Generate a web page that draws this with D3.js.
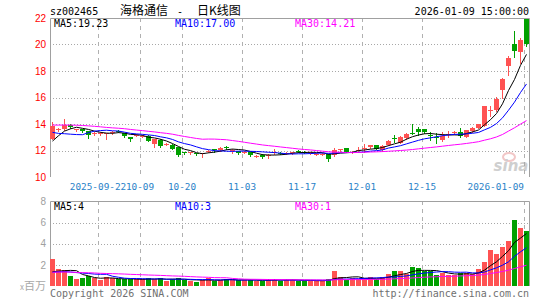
<!DOCTYPE html>
<html>
<head>
<meta charset="utf-8">
<script src="https://cdn.jsdelivr.net/npm/d3@7"></script>
<style>
  body { margin: 0; background: #fff; }
  svg { display: block; }
  text { font-family: "DejaVu Sans Mono", monospace; font-size: 10px; }
</style>
</head>
<body>
<script>
// daily K line, 2025-09-10 .. 2026-01-09 (80 trading days)
const opens = [12.90, 13.58, 13.60, 13.95, 13.56, 13.60, 13.45, 13.26, 13.27, 13.26,
  13.34, 13.50, 13.30, 13.00, 13.14, 13.08, 13.10, 12.50, 12.80, 12.47,
  12.45, 12.30, 11.85, 11.80, 11.78, 11.70, 11.90, 12.12, 12.04, 12.28,
  12.00, 11.96, 11.82, 11.90, 11.55, 11.66, 11.62, 11.80, 11.80, 11.75,
  11.80, 11.98, 11.92, 11.82, 11.70, 11.72, 11.72, 11.66, 12.05, 12.20,
  11.88, 12.00, 12.18, 12.26, 12.42, 12.04, 12.42, 12.94, 12.60, 12.92,
  13.32, 13.62, 13.60, 13.20, 13.02, 12.80, 13.22, 13.33, 13.42, 13.04,
  13.47, 13.72, 13.85, 14.98, 15.06, 16.57, 18.38, 20.04, 19.41, 21.92];
const highs = [14.13, 13.72, 14.35, 14.00, 13.66, 13.65, 13.50, 13.40, 13.38, 13.35,
  13.45, 13.55, 13.35, 13.02, 13.25, 13.20, 13.15, 12.90, 12.85, 12.60,
  12.48, 12.30, 11.90, 11.90, 11.80, 11.82, 12.05, 12.12, 12.25, 12.35,
  12.10, 12.00, 11.95, 11.92, 11.65, 11.70, 11.72, 12.08, 11.85, 11.85,
  11.92, 12.05, 11.98, 11.92, 11.80, 11.82, 11.75, 12.22, 12.15, 12.22,
  11.98, 12.30, 12.47, 12.45, 12.45, 12.38, 12.78, 13.17, 13.08, 13.30,
  13.98, 13.80, 13.65, 13.42, 13.30, 13.42, 13.45, 13.45, 13.67, 13.58,
  13.76, 14.02, 15.38, 15.38, 16.06, 17.45, 19.15, 21.00, 20.47, 21.95];
const lows = [12.85, 13.45, 13.55, 13.70, 13.50, 13.40, 12.95, 13.15, 13.20, 12.87,
  13.25, 13.40, 13.05, 12.75, 13.08, 13.00, 12.70, 12.30, 12.30, 12.40,
  12.10, 11.60, 11.75, 11.75, 11.68, 11.50, 11.85, 11.90, 12.00, 12.15,
  11.80, 11.75, 11.78, 11.62, 11.50, 11.45, 11.40, 11.75, 11.70, 11.70,
  11.75, 11.88, 11.82, 11.75, 11.65, 11.66, 11.22, 11.60, 12.00, 11.88,
  11.82, 11.95, 11.92, 12.22, 12.08, 12.00, 12.40, 12.67, 12.55, 12.88,
  13.22, 13.20, 13.30, 12.80, 12.60, 12.72, 13.00, 13.28, 13.00, 13.00,
  13.42, 13.70, 13.82, 14.60, 15.00, 15.94, 17.70, 19.08, 18.63, 19.90];
const closes = [13.85, 13.62, 13.95, 13.75, 13.60, 13.45, 13.20, 13.30, 13.31, 13.30,
  13.38, 13.46, 13.10, 12.85, 13.18, 13.12, 12.75, 12.85, 12.35, 12.52,
  12.15, 11.65, 11.80, 11.85, 11.72, 11.78, 11.97, 12.08, 12.20, 12.24,
  12.05, 11.80, 11.87, 11.66, 11.60, 11.50, 11.67, 11.85, 11.76, 11.80,
  11.86, 11.94, 11.88, 11.85, 11.75, 11.76, 11.36, 12.04, 12.10, 11.90,
  11.92, 12.05, 12.22, 12.42, 12.11, 12.34, 12.74, 12.90, 13.04, 13.25,
  13.28, 13.37, 13.37, 13.15, 12.98, 13.12, 13.26, 13.38, 13.10, 13.55,
  13.72, 13.98, 15.36, 15.02, 15.86, 17.40, 19.00, 19.53, 20.34, 20.00];
// volume, millions of shares
const volumes = [2.55, 1.60, 1.50, 0.94, 0.66, 0.75, 0.94, 0.72, 0.60, 0.82,
  0.72, 0.63, 0.63, 0.63, 0.63, 0.63, 0.72, 0.66, 0.72, 0.47,
  0.68, 0.72, 0.60, 0.50, 0.40, 0.57, 0.79, 0.45, 0.57, 0.65,
  0.60, 0.55, 0.55, 0.55, 0.50, 0.52, 0.63, 0.63, 0.50, 0.60,
  0.55, 0.50, 0.50, 0.50, 0.50, 0.50, 0.63, 1.41, 0.85, 0.60,
  0.80, 0.68, 0.72, 0.82, 0.62, 0.85, 1.13, 1.41, 1.41, 1.13,
  1.79, 1.67, 1.41, 1.38, 1.04, 1.26, 1.04, 1.00, 1.27, 1.24,
  1.10, 1.60, 2.30, 3.40, 3.05, 3.68, 4.26, 6.23, 5.47, 5.19];
// 29 days before the window, only needed so the MA lines start where the chart shows them
const earlierCloses = [13.7, 13.8, 13.9, 13.9, 14.0, 14.1, 14.3, 14.5, 14.6, 14.4,
  14.3, 14.2, 14.5, 14.6, 14.4, 14.3, 14.2, 14.1, 14.0, 14.1,
  14.4, 14.2, 14.1, 13.9, 13.55, 11.6, 12.2, 12.9, 13.0];
const earlierVolumes = [1.1, 1.2, 1.4, 1.5, 1.3, 1.2, 1.4, 1.6, 1.3, 1.2,
  1.1, 1.3, 1.4, 1.2, 1.3, 1.4, 1.2, 1.3, 1.2, 1.4,
  1.2, 1.3, 1.3, 1.2, 1.25, 1.3, 1.3, 0.8, 0.8];

const dateLabels = ["2025-09-22", "10-09", "10-20", "11-03", "11-17", "12-01", "12-15", "2026-01-09"];
const dateIndex = [8, 15, 22, 32, 42, 52, 62, 79];
const priceTicks = [10, 12, 14, 16, 18, 20, 22];
const volumeTicks = [2, 4, 6, 8];
const maPeriods = [5, 10, 30];
const maColors = ["#000", "#0000ff", "#ff00ff"];
const priceMaLabels = ["MA5:19.23", "MA10:17.00", "MA30:14.21"];
const volumeMaLabels = ["MA5:4", "MA10:3", "MA30:1"];

const width = 545;
const height = 300;
const left = 50, right = 529;

const svg = d3.select("body").append("svg")
  .attr("width", width)
  .attr("height", height);

const x = d3.scaleLinear().domain([0, 80]).range([left, left + 480]);
const y = d3.scaleLinear().domain([10, 22]).range([177, 18]);
const yv = d3.scaleLinear().domain([0, 8]).range([286, 201.5]);
const cx = i => x(i) + 2.5;
const crisp = v => Math.round(v) + 0.5;

function movingAverage(values, earlier, n) {
  const all = earlier.concat(values);
  const off = earlier.length;
  return values.map((v, i) => d3.mean(all.slice(off + i - n + 1, off + i + 1)));
}

const up = i => closes[i] >= opens[i];
const red = "#ff5252", green = "#00a000";

// titles
svg.append("text").attr("x", 50).attr("y", 15).text("sz002465");
svg.append("text").attr("x", 120).attr("y", 15)
  .style("font-family", "'Noto Sans CJK SC', sans-serif").style("font-size", "12px")
  .text("海格通信");
svg.append("text").attr("x", 177).attr("y", 15).text("-");
svg.append("text").attr("x", 197).attr("y", 15)
  .style("font-family", "'Noto Sans CJK SC', sans-serif").style("font-size", "12px")
  .text("日K线图");
svg.append("text").attr("x", right).attr("y", 15).attr("text-anchor", "end")
  .text("2026-01-09 15:00:00");

// grids
function panelGrid(scale, ticks, top, bottom) {
  const g = svg.append("g");
  g.selectAll(".h").data(ticks).enter().append("line")
    .attr("x1", left).attr("x2", right)
    .attr("y1", d => crisp(scale(d))).attr("y2", d => crisp(scale(d)))
    .attr("stroke", "#a8a8a8").attr("stroke-dasharray", "1,2");
  g.selectAll(".v").data(dateIndex).enter().append("line")
    .attr("x1", d => crisp(x(d))).attr("x2", d => crisp(x(d)))
    .attr("y1", top).attr("y2", bottom)
    .attr("stroke", "#b0b0b0").attr("stroke-dasharray", "4,4");
  g.append("path")
    .attr("d", `M${left + 0.5},${bottom}V${top + 0.5}H${right + 0.5}V${bottom}`)
    .attr("fill", "none").attr("stroke", "#a0a0a0");
}
panelGrid(y, [12, 14, 16, 18, 20], 18, 177);
panelGrid(yv, [2, 4, 6], 201, 286);

// watermark
const wm = svg.append("g").attr("opacity", 0.55);
wm.append("ellipse").attr("cx", 509).attr("cy", 157).attr("rx", 6).attr("ry", 4)
  .attr("fill", "none").attr("stroke", "#e89a9a").attr("stroke-width", 2);
wm.append("text").attr("x", 511).attr("y", 171).attr("text-anchor", "middle")
  .style("font-family", "'DejaVu Sans', sans-serif").style("font-size", "15px")
  .style("font-style", "italic").style("font-weight", "bold")
  .attr("fill", "#a8a8a8").text("sina");

// axes
const yAxis = svg.append("g").attr("transform", `translate(${left},0)`)
  .call(d3.axisLeft(y).tickValues(priceTicks).tickSize(0).tickPadding(4));
yAxis.select(".domain").remove();
yAxis.selectAll("text").attr("fill", "#ff0000")
  .style("font-family", "'Liberation Sans', sans-serif").style("font-size", "10px");

const vAxis = svg.append("g").attr("transform", `translate(${left},0)`)
  .call(d3.axisLeft(yv).tickValues(volumeTicks).tickSize(0).tickPadding(4));
vAxis.select(".domain").remove();
vAxis.selectAll("text").attr("fill", "#a0a0a0")
  .style("font-family", "'Liberation Sans', sans-serif").style("font-size", "10px");

svg.append("text").attr("x", 46).attr("y", 290).attr("text-anchor", "end")
  .attr("fill", "#a8a8a8")
  .style("font-family", "'Noto Sans CJK SC', sans-serif").style("font-size", "11px")
  .html('<tspan style="font-size:8px">x</tspan>百万');

svg.selectAll(".date").data(dateIndex).enter().append("text")
  .attr("x", d => (x(d) + 31 > right ? x(d) : x(d)))
  .attr("text-anchor", d => (x(d) + 31 > right ? "end" : "middle"))
  .attr("y", 190)
  .attr("fill", "#2a82c8")
  .style("font-size", "9.4px")
  .text((d, i) => dateLabels[i]);

// candles
const candle = svg.append("g").selectAll("g").data(d3.range(closes.length)).enter().append("g");
candle.append("line")
  .attr("x1", i => crisp(cx(i) - 0.5)).attr("x2", i => crisp(cx(i) - 0.5))
  .attr("y1", i => Math.round(y(highs[i]))).attr("y2", i => Math.round(y(lows[i])) + 1)
  .attr("stroke", i => (up(i) ? red : green));
candle.append("rect")
  .attr("x", i => x(i))
  .attr("width", 5)
  .attr("y", i => Math.round(y(Math.max(opens[i], closes[i]))))
  .attr("height", i => Math.max(1, Math.round(y(Math.min(opens[i], closes[i]))) - Math.round(y(Math.max(opens[i], closes[i])))))
  .attr("fill", i => (up(i) ? red : green));

// volume bars
svg.append("g").selectAll("rect").data(volumes).enter().append("rect")
  .attr("x", (d, i) => x(i))
  .attr("width", 5)
  .attr("y", d => Math.round(yv(d)))
  .attr("height", d => 286 - Math.round(yv(d)))
  .attr("fill", (d, i) => (up(i) ? red : green));

// moving averages
maPeriods.forEach((n, k) => {
  const ma = movingAverage(closes, earlierCloses, n);
  svg.append("path").datum(ma)
    .attr("fill", "none").attr("stroke", maColors[k]).attr("stroke-width", 1)
    .attr("d", d3.line().x((d, i) => cx(i)).y(d => y(d)));
  const vma = movingAverage(volumes, earlierVolumes, n);
  svg.append("path").datum(vma)
    .attr("fill", "none").attr("stroke", maColors[k]).attr("stroke-width", 1)
    .attr("d", d3.line().x((d, i) => cx(i)).y(d => yv(d)));
});

// legends
const legendX = [54, 175, 295];
priceMaLabels.forEach((t, k) => {
  svg.append("text").attr("x", legendX[k]).attr("y", 27).attr("fill", maColors[k]).text(t);
});
volumeMaLabels.forEach((t, k) => {
  svg.append("text").attr("x", legendX[k]).attr("y", 209.5).attr("fill", maColors[k]).text(t);
});

svg.append("text").attr("x", 50).attr("y", 297).attr("fill", "#707070")
  .text("Copyright 2026 SINA.COM");
svg.append("text").attr("x", right).attr("y", 297).attr("text-anchor", "end").attr("fill", "#707070")
  .text("http://finance.sina.com.cn");
</script>
</body>
</html>
